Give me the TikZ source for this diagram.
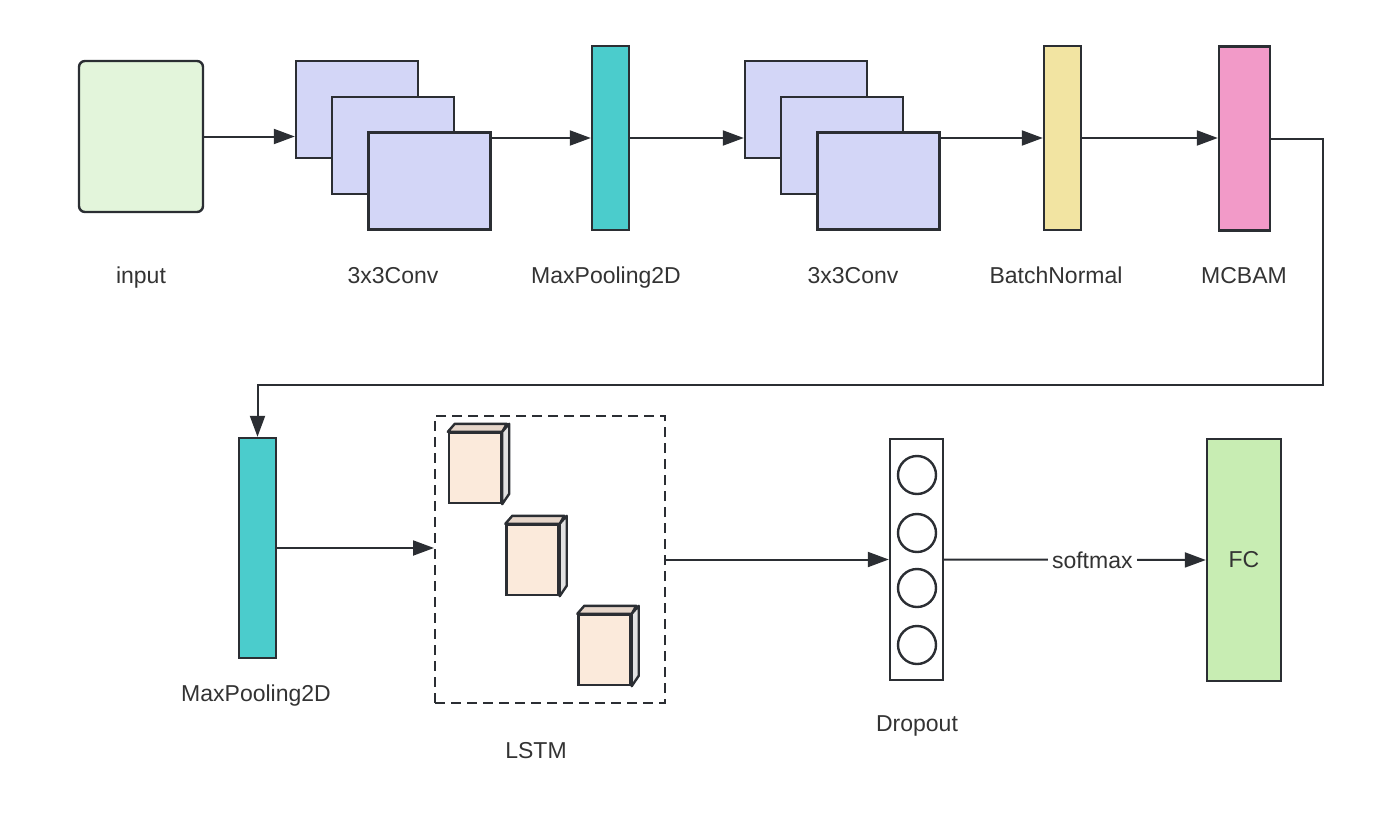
\documentclass[tikz,border=0pt]{standalone}
\usepackage{fontspec}
\setmainfont{Liberation Sans}
\usetikzlibrary{arrows.meta}
\definecolor{linec}{HTML}{2B2E33}
\definecolor{textc}{HTML}{333333}
\definecolor{inputc}{HTML}{E3F5DB}
\definecolor{convc}{HTML}{D3D6F7}
\definecolor{poolc}{HTML}{4BCCCC}
\definecolor{bnc}{HTML}{F2E4A2}
\definecolor{mcbamc}{HTML}{F29AC8}
\definecolor{cubec}{HTML}{FBEADB}
\definecolor{cubetop}{HTML}{E6D6CA}
\definecolor{cubeside}{HTML}{E2E2E2}
\definecolor{fcc}{HTML}{C8EDB3}
\begin{document}
\begin{tikzpicture}[x=0.5pt, y=-0.5pt, font=\fontsize{11.5}{14}\selectfont, text=textc,
    box/.style = {draw=linec, line width=1.2pt, inner sep=0pt},
    conv/.style = {box, fill=convc, minimum width=61pt, minimum height=48.5pt},
    bar/.style = {box, minimum width=18.5pt, minimum height=92pt},
    cube/.style = {box, fill=cubec, minimum width=26pt, minimum height=35pt},
    lbl/.style = {anchor=base},
    arr/.style = {draw=linec, line width=1pt, -{Triangle[length=10.5pt, width=7.5pt]}}]

    \useasboundingbox (0,0) rectangle (1385,829);

    \node[box, fill=inputc, rounded corners=3pt, minimum width=62pt, minimum height=75.5pt] (input) at (141,136.5) {};
    \node[conv] (conv1a) at (357,109.5) {};
    \node[conv] (conv1b) at (393,145.5) {};
    \node[conv] (conv1c) at (429.5,181) {};
    \node[bar, fill=poolc] (pool1) at (610.5,138) {};
    \node[conv] (conv2a) at (806,109.5) {};
    \node[conv] (conv2b) at (842,145.5) {};
    \node[conv] (conv2c) at (878.5,181) {};
    \node[bar, fill=bnc] (bn) at (1062.5,138) {};
    \node[bar, fill=mcbamc, minimum width=25.5pt] (mcbam) at (1244.5,138.5) {};

    \node[bar, fill=poolc, minimum height=110pt] (pool2) at (257.5,548) {};
    \node[draw=linec, line width=1pt, dash pattern=on 5pt off 3pt, minimum width=115pt, minimum height=143.5pt] (lstm) at (550,559.5) {};
    \foreach \i/\cx/\cy in {1/475/468, 2/532.5/560, 3/604.5/650} {
        \node[cube] (cell\i) at (\cx,\cy) {};
        \filldraw[fill=cubetop, draw=linec, line width=1.2pt, line join=round] (cell\i.north west) -- ++(7,-8) -- ++(52,0) -- (cell\i.north east) -- cycle;
        \filldraw[fill=cubeside, draw=linec, line width=1.2pt, line join=round] (cell\i.north east) -- ++(7,-8) -- ++(0,70) -- (cell\i.south east) -- cycle;
    }
    \node[box, fill=white, minimum width=26.5pt, minimum height=120.5pt] (drop) at (916.5,559.5) {};
    \foreach \cy in {475,533,588,645}
        \draw[linec, line width=1.2pt] (917,\cy) circle[radius=9.5pt];
    \node[box, fill=fcc, minimum width=37pt, minimum height=121pt] (fc) at (1244,560) {FC};

    \node[lbl] (tinput) at (141,283) {input};
    \node[lbl] (tconv1) at (393,283) {3x3Conv};
    \node[lbl] (tpool1) at (606,283) {MaxPooling2D};
    \node[lbl] (tconv2) at (853,283) {3x3Conv};
    \node[lbl] (tbn) at (1056,283) {BatchNormal};
    \node[lbl] (tmcbam) at (1244,283) {MCBAM};
    \node[lbl] (tpool2) at (256,701) {MaxPooling2D};
    \node[lbl] (tlstm) at (536,758) {LSTM};
    \node[lbl] (tdrop) at (917,731) {Dropout};

    \coordinate (turn) at (1323,385);
    \draw[arr] (input.east) -- (conv1a.west |- input.east);
    \draw[arr] (conv1c.east |- pool1.west) -- (pool1.west);
    \draw[arr] (pool1.east) -- (conv2a.west |- pool1.east);
    \draw[arr] (conv2c.east |- bn.west) -- (bn.west);
    \draw[arr] (bn.east) -- (mcbam.west |- bn.east);
    \draw[arr] (mcbam.east) -| (turn) -| (pool2.north);
    \draw[arr] (pool2.east) -- (lstm.west |- pool2.east);
    \draw[arr] (lstm.east) -- (drop.west);
    \draw[arr] (drop.east) -- node[pos=0.566, fill=white, inner sep=2pt] (tsoft) {softmax} (fc.west);
\end{tikzpicture}
\end{document}
